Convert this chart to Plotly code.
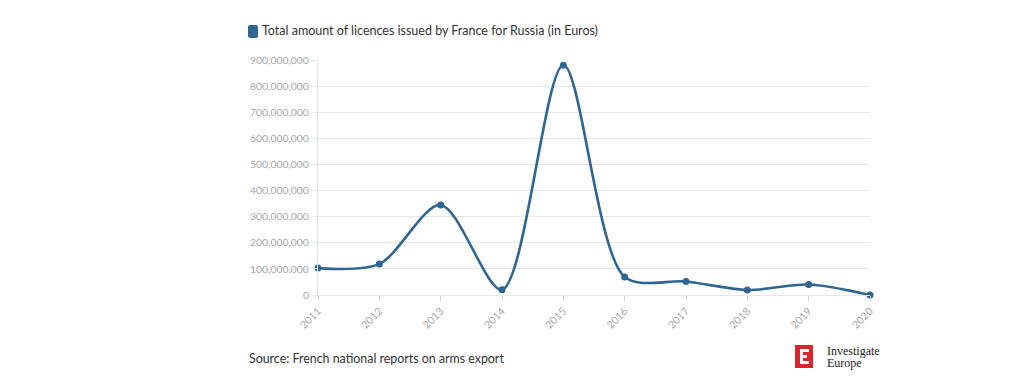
import plotly.graph_objects as go

years = [2011, 2012, 2013, 2014, 2015, 2016, 2017, 2018, 2019, 2020]
amounts = [103_000_000, 119_000_000, 345_000_000, 20_000_000, 880_000_000,
           69_000_000, 52_000_000, 19_000_000, 40_000_000, 0]
series_name = "Total amount of licences issued by France for Russia (in Euros)"
source_text = "Source: French national reports on arms export"
logo_lines = ["Investigate", "Europe"]

LINE = "#2f6592"
GRID = "#e6e6e6"
LABEL = "#a6a6a6"
FONT = "Lato, 'Open Sans', sans-serif"

fig = go.Figure()
fig.add_trace(go.Scatter(
    x=years, y=amounts, mode="lines+markers",
    line=dict(color=LINE, width=2.6, shape="spline", smoothing=0.85),
    marker=dict(color=LINE, size=7),
    cliponaxis=False, showlegend=False, name=series_name,
))

OFF = 8  # page body margin
W, H = 1024 - OFF, 392 - OFF
# plot area in screen pixels
L, R, T, B = 318, 870, 60, 295

fig.update_layout(
    width=W, height=H,
    margin=dict(l=L - OFF, r=W - (R - OFF), t=T - OFF, b=H - (B - OFF)),
    paper_bgcolor="white", plot_bgcolor="white",
    font=dict(family=FONT, color="#333333"),
    xaxis=dict(
        range=[years[0], years[-1]], tickmode="array", tickvals=years,
        ticktext=[str(y) for y in years], tickangle=-45,
        tickfont=dict(size=10.5, color=LABEL),
        showgrid=False, zeroline=False,
        showline=True, linecolor=GRID, linewidth=1,
        ticks="outside", ticklen=5, tickcolor="#d0d0d0",
        automargin=False,
    ),
    yaxis=dict(
        range=[0, 900_000_000], dtick=100_000_000, tickformat=",d",
        tickfont=dict(size=10.4, color=LABEL),
        showgrid=True, gridcolor=GRID, zeroline=False,
        showline=True, linecolor=GRID, linewidth=1,
        ticks="outside", ticklen=6, tickcolor=GRID,
        automargin=False,
    ),
)

def px_x(sx):
    return (sx - L) / (R - L)

def px_y(sy):
    return (B - sy) / (B - T)

# legend marker (rounded square) and label
fig.add_shape(type="path", xref="paper", yref="paper",
              path=("M {a},{b} L {c},{b} Q {d},{b} {d},{e} L {d},{f} Q {d},{g} {c},{g} "
                    "L {a},{g} Q {h},{g} {h},{f} L {h},{e} Q {h},{b} {a},{b} Z").format(
                  a=px_x(250), c=px_x(256), d=px_x(258), h=px_x(248),
                  b=px_y(25), e=px_y(27), f=px_y(36), g=px_y(38)),
              fillcolor=LINE, line=dict(width=0))
fig.add_annotation(xref="paper", yref="paper", x=px_x(260), y=px_y(31),
                   xanchor="left", yanchor="middle", showarrow=False,
                   text=series_name, font=dict(size=12.5, color="#333333"))

# source
fig.add_annotation(xref="paper", yref="paper", x=px_x(247), y=px_y(358),
                   xanchor="left", yanchor="middle", showarrow=False,
                   text=source_text, font=dict(size=12.4, color="#333333"))

# logo
def rect(x0, y0, x1, y1, color):
    fig.add_shape(type="rect", xref="paper", yref="paper",
                  x0=px_x(x0), x1=px_x(x1), y0=px_y(y1), y1=px_y(y0),
                  fillcolor=color, line=dict(width=0))

rect(795, 345, 813, 368, "#d8262a")
rect(800, 349, 803, 364, "white")
rect(800, 349, 809, 352, "white")
rect(800, 355, 807, 358, "white")
rect(800, 361, 809, 364, "white")
fig.add_annotation(xref="paper", yref="paper", x=px_x(825), y=px_y(351),
                   xanchor="left", yanchor="middle", showarrow=False,
                   text=logo_lines[0], font=dict(size=12, color="#222222",
                                                  family="'Liberation Serif', serif"))
fig.add_annotation(xref="paper", yref="paper", x=px_x(825), y=px_y(363),
                   xanchor="left", yanchor="middle", showarrow=False,
                   text=logo_lines[1], font=dict(size=12, color="#222222",
                                                  family="'Liberation Serif', serif"))

fig.write_html("out.html")
